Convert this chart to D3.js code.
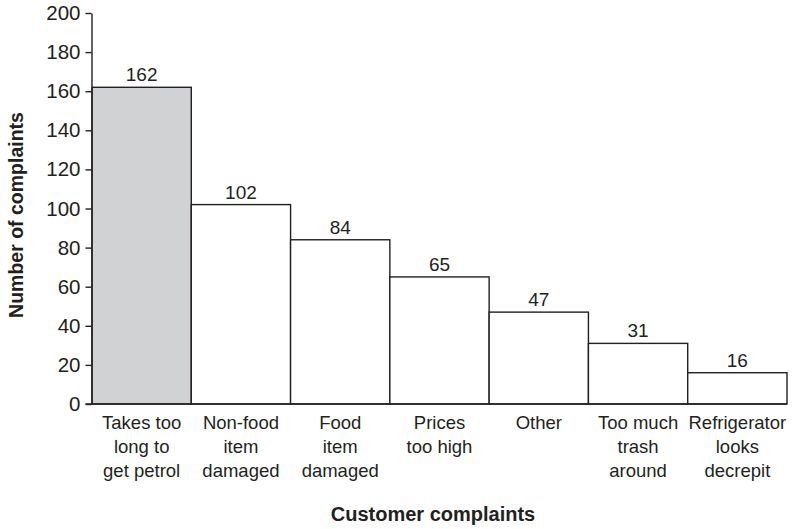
<!DOCTYPE html>
<html>
<head>
<meta charset="utf-8">
<script src="https://cdn.jsdelivr.net/npm/d3@7"></script>
<style>
  html, body { margin: 0; padding: 0; background: #fff; }
  svg { display: block; }
  text { font-family: "Liberation Sans", Arial, Helvetica, sans-serif; fill: #231f20; }
</style>
</head>
<body>
<svg id="chart" width="795" height="529"></svg>
<script>
// Complaint categories (each entry is a list of label lines)
const categories = [
  ["Takes too", "long to", "get petrol"],
  ["Non-food", "item", "damaged"],
  ["Food", "item", "damaged"],
  ["Prices", "too high"],
  ["Other"],
  ["Too much", "trash", "around"],
  ["Refrigerator", "looks", "decrepit"]
];
const complaintCounts = [162, 102, 84, 65, 47, 31, 16];
const yTicks = [0, 20, 40, 60, 80, 100, 120, 140, 160, 180, 200];
const xTitle = "Customer complaints";
const yTitle = "Number of complaints";

const ink = "#231f20";
const svg = d3.select("#chart");

const x = d3.scaleBand()
  .domain(d3.range(categories.length))
  .range([92, 787])
  .padding(0);

const y = d3.scaleLinear()
  .domain([0, 200])
  .range([404, 13]);

// Bars: the largest category is shaded
svg.append("g")
  .selectAll("rect")
  .data(complaintCounts)
  .join("rect")
  .attr("x", (d, i) => x(i))
  .attr("y", d => y(d))
  .attr("width", x.bandwidth())
  .attr("height", d => y(0) - y(d))
  .attr("fill", (d, i) => i === 0 ? "#d1d2d4" : "#ffffff")
  .attr("stroke", ink)
  .attr("stroke-width", 1.4);

// Value labels above each bar
svg.append("g")
  .selectAll("text")
  .data(complaintCounts)
  .join("text")
  .attr("x", (d, i) => x(i) + x.bandwidth() / 2)
  .attr("y", d => y(d) - 6)
  .attr("text-anchor", "middle")
  .attr("font-size", 19)
  .text(d => d);

// Y axis
const yAxis = d3.axisLeft(y)
  .tickValues(yTicks)
  .tickSize(6)
  .tickSizeOuter(0)
  .tickPadding(5);

const gy = svg.append("g")
  .attr("transform", "translate(91.5,0)")
  .call(yAxis);
gy.select(".domain").attr("stroke", ink).attr("stroke-width", 1.4);
gy.selectAll(".tick line").attr("stroke", ink).attr("stroke-width", 1.4);
gy.selectAll(".tick text")
  .attr("font-size", 20.5)
  .attr("font-family", "'Liberation Sans', Arial, sans-serif")
  .attr("fill", ink);

// Baseline along the bottom of the bars
svg.append("line")
  .attr("x1", 85.5)
  .attr("x2", 787)
  .attr("y1", y(0))
  .attr("y2", y(0))
  .attr("stroke", ink)
  .attr("stroke-width", 1.4);

// Multi-line category labels
const catG = svg.append("g")
  .selectAll("text")
  .data(categories)
  .join("text")
  .attr("text-anchor", "middle")
  .attr("font-size", 18.5)
  .attr("transform", (d, i) => `translate(${x(i) + x.bandwidth() / 2},429)`);
catG.selectAll("tspan")
  .data(d => d)
  .join("tspan")
  .attr("x", 0)
  .attr("y", (d, j) => j * 24)
  .text(d => d);

// Axis titles
svg.append("text")
  .attr("x", 433)
  .attr("y", 521)
  .attr("text-anchor", "middle")
  .attr("font-size", 20)
  .attr("font-weight", "bold")
  .text(xTitle);

svg.append("text")
  .attr("transform", "translate(23,215) rotate(-90)")
  .attr("text-anchor", "middle")
  .attr("font-size", 19.5)
  .attr("font-weight", "bold")
  .text(yTitle);
</script>
</body>
</html>
